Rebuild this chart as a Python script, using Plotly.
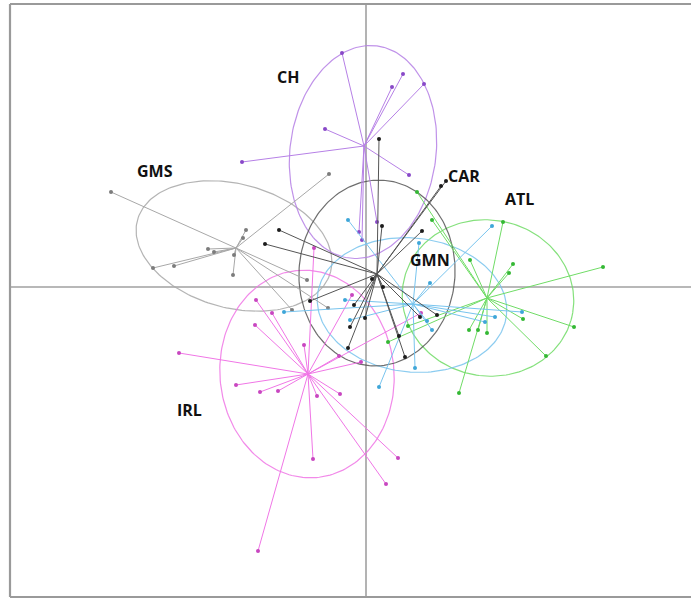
import numpy as np
import plotly.graph_objects as go

# ---- discriminant scores (LD1, LD2) per population ----
ch_center = [-0.04, 2.82]
ch_x = [-0.48, 0.74, 0.52, 1.16, -0.82, -2.48, 0.86, 0.22, -0.14, -0.08]
ch_y = [4.68, 4.26, 4.00, 4.06, 3.16, 2.50, 2.24, 1.30, 1.10, 0.94]

gms_center = [-2.60, 0.78]
gms_x = [-5.10, -2.40, -2.46, -0.74, -3.16, -3.04, -3.84, -4.26, -2.64, -2.66, -1.18, -0.76, -1.48]
gms_y = [1.90, 1.14, 0.98, 2.26, 0.76, 0.70, 0.42, 0.38, 0.64, 0.24, 0.14, -0.42, -0.46]

gmn_center = [0.22, 0.26]
gmn_x = [1.50, 1.60, 1.12, 0.32, 0.26, 0.12, 0.34, -1.12, -0.24, -0.02, -0.32, -0.36,
         0.66, 0.78, 1.42, 1.08, -1.74, -2.02]
gmn_y = [2.02, 2.12, 1.12, 1.22, 2.96, 0.16, 0.00, -0.28, -0.36, -0.62, -0.80, -1.22,
         -0.98, -1.40, -0.56, -0.60, 1.14, 0.86]

atl_center = [2.42, -0.22]
atl_x = [4.74, 2.74, 2.94, 2.86, 2.08, 1.32, 1.02, 2.06, 2.24, 2.42, 3.14, 4.16, 3.60, 1.86, 0.84, 0.44]
atl_y = [0.40, 1.30, 0.46, 0.28, 0.54, 1.34, 1.90, -0.86, -0.86, -0.92, -0.64, -0.80, -1.38, -2.12, -0.78, -1.10]

car_center = [0.94, -0.34]
car_x = [2.52, 1.06, -0.36, -0.42, -0.32, -1.64, 1.22, 1.32, 3.12, 2.58, 2.38, 0.98, 0.26, 1.28]
car_y = [1.22, 0.88, 1.34, -0.26, -0.66, -0.50, -0.68, -0.86, -0.50, -0.60, -0.70, -1.62, -2.00, 0.08]

irl_center = [-1.16, -1.74]
irl_x = [-2.20, -2.22, -1.88, -3.74, -1.24, -2.60, -2.12, -1.76, -0.98, -0.52, -1.06, 0.64,
         0.40, -2.16, -0.54, -0.10, -0.28, -1.04, 1.10]
irl_y = [-0.26, -0.76, -0.52, -1.32, -1.16, -1.96, -2.10, -2.08, -2.18, -2.14, -3.44, -3.42,
         -3.94, -5.28, -1.38, -1.50, -0.16, 0.78, -0.52]

# inertia ellipses: centre x, centre y, semi-axis a, semi-axis b, angle of a (degrees)
ch_ellipse = [-0.06, 2.70, 2.14, 1.46, 82.5]
gms_ellipse = [-2.64, 0.82, 2.00, 1.24, -15.0]
gmn_ellipse = [0.22, 0.28, 1.86, 1.56, 86.0]
atl_ellipse = [2.44, -0.22, 1.72, 1.56, -10.0]
car_ellipse = [0.92, -0.36, 1.90, 1.34, -6.0]
irl_ellipse = [-1.18, -1.74, 2.08, 1.74, 96.0]

group_names = ["GMS", "CH", "IRL", "ATL", "CAR", "GMN"]
label_x = [-4.22, -1.56, -3.54, 3.06, 1.96, 1.28]
label_y = [2.32, 4.20, -2.46, 1.76, 2.22, 0.54]
label_text = ["GMS", "CH", "IRL", "ATL", "CAR", "GMN"]

# colours: (segment / ellipse colour, point colour)
styles = {
    "GMS": ("#a8a8a8", "#7c7c7c"),
    "CH": ("#b680e6", "#8848c8"),
    "IRL": ("#f076e6", "#c846c0"),
    "ATL": ("#70dc66", "#34b834"),
    "CAR": ("#78c4ee", "#3ea6d8"),
    "GMN": ("#555555", "#1c1c1c"),
}

groups = {
    "GMS": (gms_center, gms_x, gms_y, gms_ellipse),
    "CH": (ch_center, ch_x, ch_y, ch_ellipse),
    "IRL": (irl_center, irl_x, irl_y, irl_ellipse),
    "ATL": (atl_center, atl_x, atl_y, atl_ellipse),
    "CAR": (car_center, car_x, car_y, car_ellipse),
    "GMN": (gmn_center, gmn_x, gmn_y, gmn_ellipse),
}

fig = go.Figure()

t = np.linspace(0, 2 * np.pi, 200)
for name in group_names:
    center, xs, ys, ell = groups[name]
    line_col, pt_col = styles[name]
    cx, cy, a, b, ang = ell
    th = np.deg2rad(ang)
    ex = cx + a * np.cos(t) * np.cos(th) - b * np.sin(t) * np.sin(th)
    ey = cy + a * np.cos(t) * np.sin(th) + b * np.sin(t) * np.cos(th)
    fig.add_trace(go.Scatter(x=ex, y=ey, mode="lines",
                             line=dict(color=line_col, width=1.2),
                             opacity=0.85, hoverinfo="skip", showlegend=False))

for name in group_names:
    center, xs, ys, ell = groups[name]
    line_col, pt_col = styles[name]
    sx, sy = [], []
    for px, py in zip(xs, ys):
        sx += [center[0], px, None]
        sy += [center[1], py, None]
    fig.add_trace(go.Scatter(x=sx, y=sy, mode="lines",
                             line=dict(color=line_col, width=1.0),
                             hoverinfo="skip", showlegend=False))
    fig.add_trace(go.Scatter(x=xs, y=ys, mode="markers",
                             marker=dict(color=pt_col, size=4),
                             name=name, showlegend=False))

for lx, ly, txt in zip(label_x, label_y, label_text):
    fig.add_annotation(x=lx, y=ly, text="<b>" + txt + "</b>", showarrow=False,
                       font=dict(family="Open Sans, sans-serif", size=16, color="#111111"))

# zero axes through the origin
fig.add_shape(type="line", xref="x", yref="paper", x0=0, x1=0, y0=0, y1=1,
              line=dict(color="#a0a0a0", width=1.6), layer="below")
fig.add_shape(type="line", xref="paper", yref="y", x0=0, x1=1, y0=0, y1=0,
              line=dict(color="#a0a0a0", width=1.6), layer="below")

# frame (left, top, bottom)
for x0, y0, x1, y1 in [(0, 0, 0, 1), (0, 1, 1, 1), (0, 0, 1, 0)]:
    fig.add_shape(type="line", xref="paper", yref="paper", x0=x0, y0=y0, x1=x1, y1=y1,
                  line=dict(color="#9a9a9a", width=2.2))

fig.update_xaxes(range=[-7.12, 6.50], visible=False, showgrid=False, zeroline=False)
fig.update_yaxes(range=[-6.20, 5.66], visible=False, showgrid=False, zeroline=False)
fig.update_layout(width=691, height=600,
                  margin=dict(l=10, r=0, t=4, b=3),
                  plot_bgcolor="white", paper_bgcolor="white")

fig.write_html("out.html")
